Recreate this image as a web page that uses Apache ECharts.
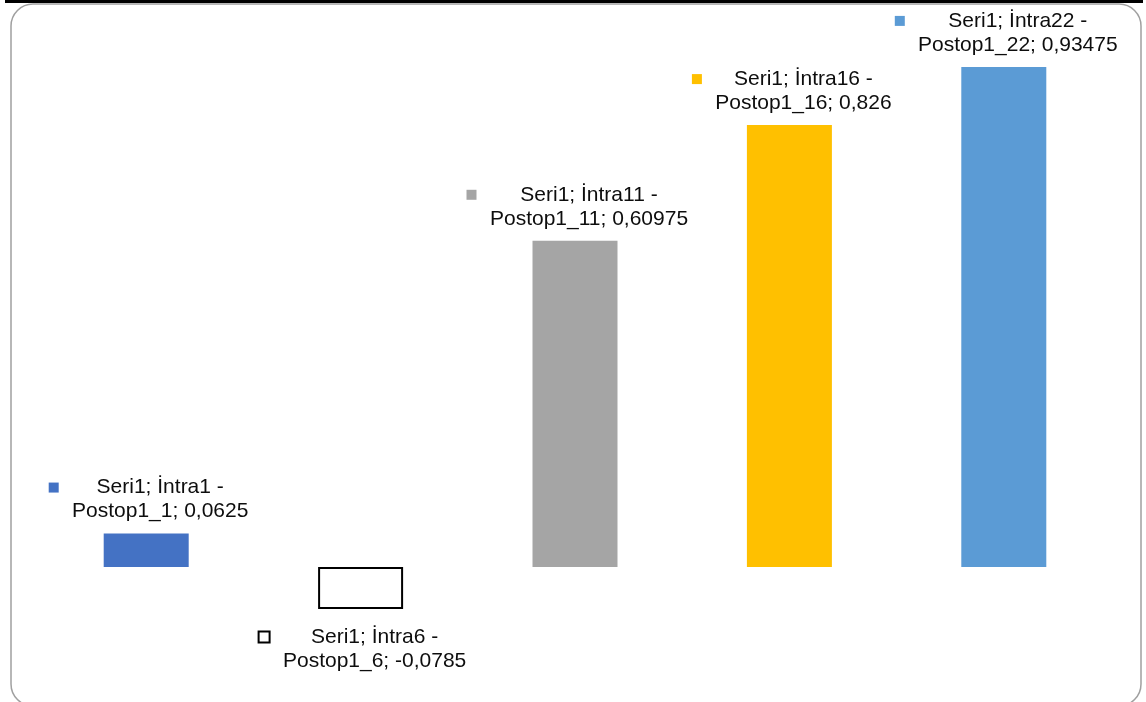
<!DOCTYPE html>
<html>
<head>
<meta charset="utf-8">
<script src="https://cdn.jsdelivr.net/npm/echarts@6/dist/echarts.min.js"></script>
<style>
html,body{margin:0;padding:0;background:#fff;}
#c{width:1146px;height:702px;}
</style>
</head>
<body>
<div id="c"></div>
<script>
var categories = ['İntra1 - Postop1_1', 'İntra6 - Postop1_6', 'İntra11 - Postop1_11', 'İntra16 - Postop1_16', 'İntra22 - Postop1_22'];
var labelLine1 = ['Seri1; İntra1 -', 'Seri1; İntra6 -', 'Seri1; İntra11 -', 'Seri1; İntra16 -', 'Seri1; İntra22 -'];
var labelLine2 = ['Postop1_1; 0,0625', 'Postop1_6; -0,0785', 'Postop1_11; 0,60975', 'Postop1_16; 0,826', 'Postop1_22; 0,93475'];
var values = [0.0625, -0.0785, 0.60975, 0.826, 0.93475];
var colors = ['#4472C4', '#FFFFFF', '#A5A5A5', '#FFC000', '#5B9BD5'];

var FONT_SIZE = 21;
var FONT_FAMILY = '"Liberation Sans", Arial, sans-serif';
var measureCtx = document.createElement('canvas').getContext('2d');
measureCtx.font = FONT_SIZE + 'px ' + FONT_FAMILY;
function textWidth(s) { return Math.ceil(measureCtx.measureText(s).width); }

var chart = echarts.init(document.getElementById('c'), null, {renderer: 'canvas'});

var data = values.map(function (v, i) {
  var isHollow = i === 1;
  var w = Math.max(textWidth(labelLine1[i]), textWidth(labelLine2[i])) + 2;
  var rich = {
    sq: {
      width: isHollow ? 9 : 10, height: isHollow ? 9 : 10,
      backgroundColor: colors[i],
      borderColor: isHollow ? '#000' : colors[i],
      borderWidth: isHollow ? 2 : 0,
      align: 'left', fontSize: 1
    },
    gap: {width: isHollow ? 13 : 12, align: 'left', fontSize: 1},
    sp: {width: 22, align: 'left', fontSize: 1},
    t: {fontSize: FONT_SIZE, lineHeight: 24, color: '#0d0d0d', fontFamily: FONT_FAMILY, align: 'center', width: w}
  };
  return {
    value: v,
    itemStyle: {
      color: colors[i],
      borderColor: isHollow ? '#000' : colors[i],
      borderWidth: isHollow ? 2 : 0
    },
    label: {
      show: true,
      position: v >= 0 ? 'top' : 'bottom',
      distance: v >= 0 ? 12 : 14,
      offset: [3, 2],
      formatter: '{sq| }{gap| }{t|' + labelLine1[i] + '}\n{sp| }{t|' + labelLine2[i] + '}',
      rich: rich
    }
  };
});

chart.setOption({
  animation: false,
  backgroundColor: '#fff',
  graphic: [
    {type: 'rect', shape: {x: 11, y: 4, width: 1130, height: 702, r: 22},
     style: {fill: 'none', stroke: '#A0A0A0', lineWidth: 1.5}, z: -1},
    {type: 'rect', shape: {x: 5, y: 0, width: 1138, height: 3},
     style: {fill: '#000'}, z: 10}
  ],
  grid: {left: 39, right: 35, top: 32, bottom: 28, containLabel: false},
  xAxis: {
    type: 'category', data: categories,
    axisLine: {show: false}, axisTick: {show: false}, axisLabel: {show: false}
  },
  yAxis: {
    type: 'value', min: -0.2, max: 1.0, interval: 0.2,
    axisLine: {show: false}, axisTick: {show: false}, axisLabel: {show: false},
    splitLine: {show: false}
  },
  series: [{
    type: 'bar', name: 'Seri1', data: data, barWidth: 85
  }]
});
</script>
</body>
</html>
